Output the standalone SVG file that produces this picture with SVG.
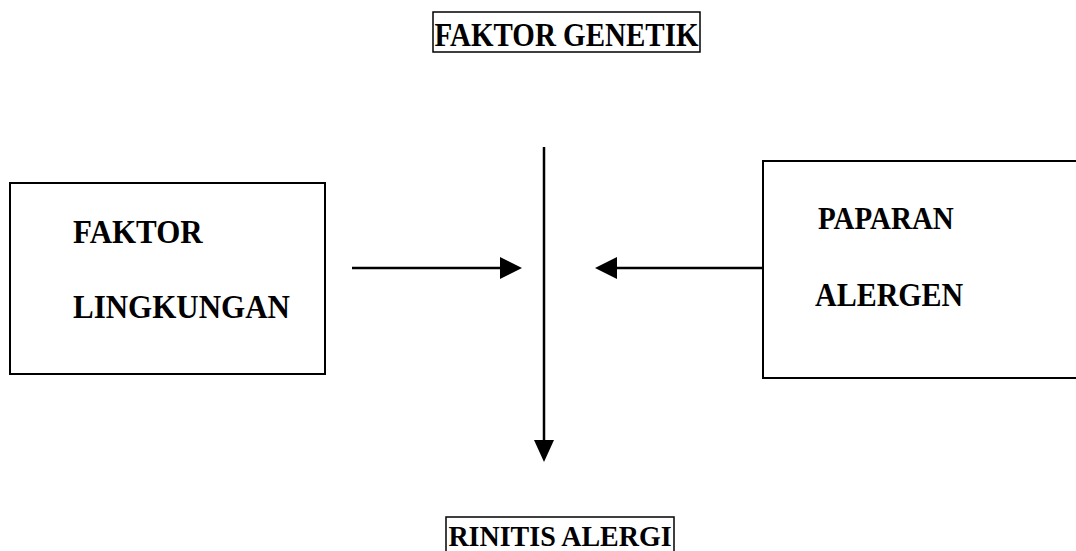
<svg xmlns="http://www.w3.org/2000/svg" width="1076" height="551" viewBox="0 0 1076 551">
<style>
.t{font-family:"Liberation Serif","Times New Roman",serif;font-weight:bold;fill:#000}
.b{fill:#fff;stroke:#000;stroke-width:2}
.tb{fill:none;stroke:#000;stroke-width:1.5}
.c{stroke:#000;stroke-width:2.5;fill:none}
</style>
<rect width="1076" height="551" fill="#fff"/>
<g id="faktor-genetik">
<rect class="tb" x="433" y="12" width="267" height="40"/>
<text class="t" font-size="29" text-anchor="middle" transform="translate(566.5,46) scale(1,1.15)">FAKTOR GENETIK</text>
</g>
<g id="faktor-lingkungan">
<rect class="b" x="10" y="183" width="315" height="191"/>
<text class="t" font-size="31" transform="translate(73,243) scale(1,1.1)">FAKTOR</text>
<text class="t" font-size="31" transform="translate(73,318) scale(1,1.1)">LINGKUNGAN</text>
</g>
<g id="paparan-alergen">
<rect class="b" x="763" y="161" width="330" height="217"/>
<text class="t" font-size="29" transform="translate(818,229) scale(1,1.1)">PAPARAN</text>
<text class="t" font-size="30" transform="translate(815,306) scale(1,1.1)">ALERGEN</text>
</g>
<g id="rinitis-alergi">
<rect class="tb" x="446" y="517" width="228" height="40"/>
<text class="t" font-size="28" text-anchor="middle" transform="translate(560,546) scale(1,1.08)">RINITIS ALERGI</text>
</g>
<g id="connectors">
<line class="c" x1="544" y1="147" x2="544" y2="440"/>
<path d="M534,440 L554,440 L544,462 Z" fill="#000"/>
<line class="c" x1="352" y1="268" x2="502" y2="268"/>
<path d="M500,257 L522,268 L500,279 Z" fill="#000"/>
<line class="c" x1="763" y1="268" x2="615" y2="268"/>
<path d="M617,257 L595,268 L617,279 Z" fill="#000"/>
</g>
</svg>
